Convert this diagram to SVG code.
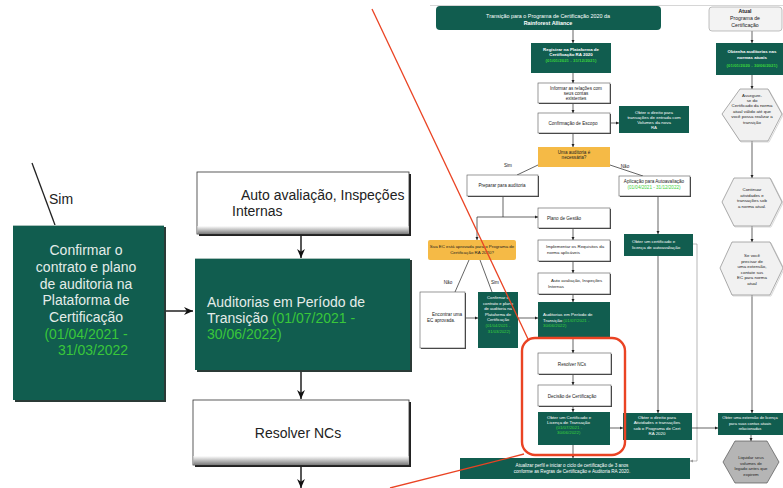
<svg xmlns="http://www.w3.org/2000/svg" width="783" height="488" viewBox="0 0 783 488">
<defs>
<style>
text{font-family:"Liberation Sans",Arial,sans-serif;}
.g{fill:#115d4f;}
.gs{fill:#2b3a36;}
.w{fill:#ffffff;stroke:#555;stroke-width:0.6;}
.ws{fill:#444;}
.o{fill:#f5ba46;}
.hx{fill:#f1f1f1;stroke:#8a8a8a;stroke-width:0.7;}
.hxs{fill:none;stroke:#c8c8c8;stroke-width:0.7;}
.t{font-size:4.6px;fill:#222;}
.tw{font-size:4.4px;fill:#fff;}
.tb{font-weight:bold;}
.tg{fill:#3bd23b;}
.c{stroke:#222;stroke-width:0.7;fill:none;}
.cl{stroke:#111;stroke-width:1.4;fill:none;}
.L{font-size:14px;}
.LW{font-size:14px;fill:#e4ece9;}
.LG{fill:#39c73a;}
.red{stroke:#ea4323;fill:none;}
</style>
<marker id="a" viewBox="0 0 6 6" refX="6" refY="3" markerWidth="3.2" markerHeight="3.2" markerUnits="userSpaceOnUse" orient="auto"><path d="M0,0 L6,3 L0,6 z" fill="#222"/></marker>
<marker id="ag" viewBox="0 0 6 6" refX="6" refY="3" markerWidth="3.2" markerHeight="3.2" markerUnits="userSpaceOnUse" orient="auto"><path d="M0,0 L6,3 L0,6 z" fill="#999"/></marker>
<marker id="A" viewBox="0 0 8 8" refX="8" refY="4" markerWidth="9" markerHeight="9" markerUnits="userSpaceOnUse" orient="auto"><path d="M0,0.5 L8,4 L0,7.5 L2.5,4 z" fill="#111"/></marker>
<linearGradient id="sh" x1="0" y1="0" x2="0" y2="1"><stop offset="0" stop-color="#ffffff"/><stop offset="1" stop-color="#7a7a7a"/></linearGradient>
</defs>
<rect width="783" height="488" fill="#fff"/>
<line x1="430" y1="5.5" x2="783" y2="5.5" stroke="#bbb" stroke-width="0.6"/>

<!-- ===== LEFT ZOOMED VIEW ===== -->
<g id="left-connectors">
<line x1="32" y1="163" x2="55" y2="225" stroke="#222" stroke-width="1.3"/>
<line class="cl" x1="164" y1="311" x2="193" y2="311" marker-end="url(#A)"/>
<line class="cl" x1="301" y1="235" x2="301" y2="258" marker-end="url(#A)"/>
<line class="cl" x1="301" y1="370" x2="301" y2="399" marker-end="url(#A)"/>
<line class="cl" x1="301" y1="465" x2="301" y2="488" marker-end="url(#A)"/>
</g>
<g id="L-sim"><text class="L" x="49" y="204" fill="#222">Sim</text></g>
<g id="L-confirmar">
<rect x="15" y="227" width="151" height="175" class="gs"/>
<rect x="13" y="225" width="151" height="175" class="g"/>
<line x1="13" y1="225.5" x2="164" y2="225.5" stroke="#a9c1bb" stroke-width="1"/>
<text class="LW" text-anchor="middle">
<tspan x="88" y="255">Confirmar o</tspan>
<tspan x="88" y="272">contrato e plano</tspan>
<tspan x="88" y="288.5">de auditoria na</tspan>
<tspan x="88" y="305">Plataforma de</tspan>
<tspan x="88" y="322">Certificação</tspan>
<tspan x="88" y="338.5" class="LG">(01/04/2021 -</tspan>
<tspan x="93" y="355" class="LG">31/03/2022</tspan>
</text>
</g>
<g id="L-auto">
<rect x="199" y="174" width="212" height="62" fill="#222"/>
<rect x="197" y="172" width="212" height="62" fill="#fff" stroke="#333" stroke-width="0.8"/>
<rect x="197.5" y="226" width="211" height="8" fill="url(#sh)"/>
<text class="L" fill="#222"><tspan x="241" y="200">Auto avaliação, Inspeções</tspan><tspan x="232" y="216">Internas</tspan></text>
</g>
<g id="L-auditorias">
<rect x="197" y="260" width="215" height="112" class="gs"/>
<rect x="195" y="258" width="215" height="112" class="g"/>
<line x1="195" y1="258.5" x2="410" y2="258.5" stroke="#a9c1bb" stroke-width="1"/>
<text class="LW"><tspan x="207" y="307">Auditorias em Período de</tspan><tspan x="207" y="323">Transição <tspan class="LG">(01/07/2021 -</tspan></tspan><tspan x="207" y="339" class="LG">30/06/2022)</tspan></text>
</g>
<g id="L-resolver">
<rect x="195" y="402" width="216" height="65" fill="#222"/>
<rect x="193" y="400" width="216" height="65" fill="#fff" stroke="#333" stroke-width="0.8"/>
<rect x="193.5" y="456" width="215" height="9" fill="url(#sh)"/>
<text class="L" fill="#222" x="298" y="438" text-anchor="middle">Resolver NCs</text>
</g>

<!-- ===== RIGHT FLOWCHART ===== -->
<g id="connectors">
<line class="c" x1="573" y1="30" x2="573" y2="43" marker-end="url(#a)"/>
<line class="c" x1="752" y1="31" x2="752" y2="43" marker-end="url(#a)"/>
<line class="c" x1="573" y1="73" x2="573" y2="83" marker-end="url(#a)"/>
<line class="c" x1="752" y1="75" x2="752" y2="89" marker-end="url(#a)"/>
<line class="c" x1="573" y1="103" x2="573" y2="113" marker-end="url(#a)"/>
<line class="c" x1="610" y1="123" x2="619" y2="123" marker-end="url(#a)"/>
<line class="c" x1="573" y1="133" x2="573" y2="147" marker-end="url(#a)"/>
<line class="c" x1="752" y1="141" x2="752" y2="178" marker-end="url(#a)"/>
<line class="c" x1="538" y1="165" x2="517" y2="175"/>
<line class="c" x1="610" y1="165" x2="643" y2="176"/>
<path class="c" d="M503,196 V217 M477,217 H538" marker-end="url(#a)"/>
<path class="c" d="M477,217 V240" marker-end="url(#a)"/>
<line class="c" x1="658" y1="196" x2="658" y2="234" marker-end="url(#a)"/>
<line class="c" x1="752" y1="226" x2="752" y2="242" marker-end="url(#a)"/>
<line class="c" x1="573" y1="228" x2="573" y2="240" marker-end="url(#a)"/>
<line class="c" x1="469" y1="260" x2="455" y2="292"/>
<line class="c" x1="480" y1="260" x2="492" y2="292"/>
<line class="c" x1="573" y1="261" x2="573" y2="273" marker-end="url(#a)"/>
<line class="c" x1="573" y1="294" x2="573" y2="302" marker-end="url(#a)"/>
<line class="c" x1="465" y1="318" x2="478" y2="318" marker-end="url(#a)"/>
<line class="c" x1="518" y1="318" x2="538" y2="318" marker-end="url(#a)"/>
<line class="c" x1="573" y1="337" x2="573" y2="353" marker-end="url(#a)"/>
<line class="c" x1="573" y1="374" x2="573" y2="385" marker-end="url(#a)"/>
<line class="c" x1="573" y1="406" x2="573" y2="412" marker-end="url(#a)"/>
<line class="c" x1="573" y1="445" x2="573" y2="458" marker-end="url(#a)"/>
<line class="c" x1="658" y1="256" x2="658" y2="413" marker-end="url(#a)"/>
<path d="M693,244 H697 V461 H690" stroke="#999" stroke-width="0.7" fill="none" marker-end="url(#ag)"/>
<line class="c" x1="752" y1="295" x2="752" y2="413" marker-end="url(#a)"/>
<line class="c" x1="610" y1="428" x2="623" y2="428" marker-end="url(#a)"/>
<line class="c" x1="692" y1="428" x2="718" y2="428" marker-end="url(#a)"/>
<line class="c" x1="751" y1="435" x2="751" y2="441" marker-end="url(#a)"/>
</g>

<g id="n-header">
<rect x="436" y="6" width="225" height="24" rx="4" class="g"/>
<text class="tw" text-anchor="middle" style="font-size:5.4px"><tspan x="548" y="18">Transição para o Programa de Certificação 2020 da</tspan><tspan x="548" y="24.5" class="tb">Rainforest Alliance</tspan></text>
</g>
<g id="n-atual">
<rect x="709" y="7" width="73" height="24" rx="3" fill="#f3f3f3" stroke="#999" stroke-width="0.6"/>
<text class="t" text-anchor="middle" style="font-size:5.2px"><tspan x="745" y="13" class="tb">Atual</tspan><tspan x="745" y="20">Programa de</tspan><tspan x="745" y="27">Certificação</tspan></text>
</g>
<g id="n-registrar">
<rect x="531" y="43" width="80" height="30" class="g"/>
<text class="tw tb" text-anchor="middle"><tspan x="571" y="50.5">Registrar na Plataforma de</tspan><tspan x="571" y="56">Certificação RA 2020</tspan><tspan x="571" y="61.5" class="tg">(01/01/2021 - 31/12/2021)</tspan></text>
</g>
<g id="n-obtenha">
<rect x="716" y="43" width="72" height="32" class="g"/>
<text class="tw tb" text-anchor="middle"><tspan x="752" y="53">Obtenha auditorias nas</tspan><tspan x="752" y="58.5">normas atuais</tspan><tspan x="752" y="67" class="tg">(01/01/2020 - 30/06/2021)</tspan></text>
</g>
<g id="n-informar">
<rect x="539" y="84" width="72" height="20" class="ws"/>
<rect x="538" y="83" width="72" height="20" class="w"/>
<text class="t" text-anchor="middle"><tspan x="576" y="90">Informar as relações com</tspan><tspan x="576" y="95">seus contas</tspan><tspan x="576" y="100">existentes</tspan></text>
</g>
<g id="n-hex1">
<polygon points="741,90 769,90 783,115 769,142 741,142 723,115" class="hxs"/>
<polygon points="740,89 768,89 782,114 768,141 740,141 722,114" class="hx"/>
<text class="t" text-anchor="middle" style="font-size:4.4px"><tspan x="752" y="96.5">Assegure-</tspan><tspan x="752" y="101.5">se do</tspan><tspan x="752" y="107">Certificado da norma</tspan><tspan x="752" y="112.5">atual válido até que</tspan><tspan x="752" y="118">você possa realizar a</tspan><tspan x="752" y="123.5">transição</tspan></text>
</g>
<g id="n-escopo">
<rect x="539" y="114" width="72" height="20" class="ws"/>
<rect x="538" y="113" width="72" height="20" class="w"/>
<text class="t" x="573" y="125" text-anchor="middle">Confirmação de Escopo</text>
</g>
<g id="n-direito1">
<rect x="619" y="106" width="70" height="27" class="g"/>
<text class="tw" text-anchor="middle"><tspan x="654" y="114">Obter o direito para</tspan><tspan x="654" y="119">transações de entrada com</tspan><tspan x="654" y="124">Volumes da nova</tspan><tspan x="654" y="129">RA</tspan></text>
</g>
<g id="n-auditoria-q">
<rect x="538" y="147" width="72" height="20" class="o"/>
<text class="t" text-anchor="middle"><tspan x="574" y="153.5">Uma auditoria é</tspan><tspan x="574" y="159">necessária?</tspan></text>
</g>
<g id="lbl-sim1"><text class="t" x="508" y="167" text-anchor="middle">Sim</text></g>
<g id="lbl-nao1"><text class="t" x="625" y="168" text-anchor="middle">Não</text></g>
<g id="n-preparar">
<rect x="468" y="176" width="71" height="21" class="ws"/>
<rect x="467" y="175" width="71" height="21" class="w"/>
<text class="t" x="502" y="187" text-anchor="middle">Preparar para auditoria</text>
</g>
<g id="n-aplicacao">
<rect x="620" y="177" width="71" height="20" class="ws"/>
<rect x="619" y="176" width="71" height="20" class="w"/>
<text class="t" text-anchor="middle"><tspan x="654" y="183">Aplicação para Autoavaliação</tspan><tspan x="654" y="189" class="tg">(01/04/2021 - 31/12/2022)</tspan></text>
</g>
<g id="n-hex2">
<polygon points="735,179 771,179 783,203 771,227 735,227 723,203" class="hxs"/>
<polygon points="734,178 770,178 782,202 770,226 734,226 722,202" class="hx"/>
<text class="t" text-anchor="middle" style="font-size:4.4px"><tspan x="752" y="191">Continuar</tspan><tspan x="752" y="196.5">atividades e</tspan><tspan x="752" y="202">transações sob</tspan><tspan x="752" y="207.5">a norma atual.</tspan></text>
</g>
<g id="n-plano">
<rect x="539" y="209" width="72" height="20" class="ws"/>
<rect x="538" y="208" width="72" height="20" class="w"/>
<text class="t" x="564" y="219.5" text-anchor="middle">Plano de Gestão</text>
</g>
<g id="n-ec-q">
<rect x="428" y="240" width="88" height="20" rx="2" class="o"/>
<text class="t" text-anchor="middle" style="font-size:4.4px"><tspan x="472" y="247.5">Sua EC está aprovada para o Programa de</tspan><tspan x="472" y="253.5">Certificação RA 2020?</tspan></text>
</g>
<g id="n-implementar">
<rect x="539" y="241" width="72" height="21" class="ws"/>
<rect x="538" y="240" width="72" height="21" class="w"/>
<text class="t" style="font-size:4.4px"><tspan x="546" y="248">Implementar os Requisitos da</tspan><tspan x="547" y="254">norma aplicáveis</tspan></text>
</g>
<g id="n-cert-auto">
<rect x="624" y="234" width="69" height="22" class="g"/>
<text class="tw"><tspan x="632" y="243">Obter um certificado e</tspan><tspan x="632" y="248.5">licença de autoavaliação</tspan></text>
</g>
<g id="n-hex3">
<polygon points="733,243 771,243 784,269 771,296 733,296 721,269" class="hxs"/>
<polygon points="732,242 770,242 783,268 770,295 732,295 720,268" class="hx"/>
<text class="t" text-anchor="middle" style="font-size:4.4px"><tspan x="752" y="257">Se você</tspan><tspan x="752" y="262.5">precisar de</tspan><tspan x="752" y="268">uma extensão,</tspan><tspan x="752" y="273.5">contate sus</tspan><tspan x="752" y="279">EC para norma</tspan><tspan x="752" y="284.5">atual</tspan></text>
</g>
<g id="lbl-nao2"><text class="t" x="448" y="284" text-anchor="middle">Não</text></g>
<g id="lbl-sim2"><text class="t" x="495" y="284" text-anchor="middle">Sim</text></g>
<g id="n-auto">
<rect x="539" y="274" width="72" height="21" class="ws"/>
<rect x="538" y="273" width="72" height="21" class="w"/>
<text class="t" style="font-size:4.4px"><tspan x="551" y="282">Auto avaliação, Inspeções</tspan><tspan x="548" y="288">Internas</tspan></text>
</g>
<g id="n-encontrar">
<rect x="421" y="293" width="45" height="56" class="ws"/>
<rect x="420" y="292" width="45" height="56" class="w"/>
<text class="t"><tspan x="432" y="316">Encontrar uma</tspan><tspan x="427" y="322">EC aprovada.</tspan></text>
</g>
<g id="n-confirmar">
<rect x="478" y="292" width="40" height="56" class="g"/>
<text class="tw" text-anchor="middle" style="font-size:4.2px"><tspan x="498" y="299">Confirmar o</tspan><tspan x="498" y="304.5">contrato e plano</tspan><tspan x="498" y="310">de auditoria na</tspan><tspan x="498" y="315.5">Plataforma de</tspan><tspan x="498" y="321">Certificação</tspan><tspan x="498" y="327" class="tg">(01/04/2021 -</tspan><tspan x="499" y="332.5" class="tg">31/03/2022)</tspan></text>
</g>
<g id="n-auditorias">
<rect x="538" y="302" width="72" height="35" class="g"/>
<text class="tw"><tspan x="543" y="316">Auditorias em Período de</tspan><tspan x="543" y="321.5">Transição <tspan class="tg">(01/07/2021 -</tspan></tspan><tspan x="543" y="327" class="tg">30/06/2022)</tspan></text>
</g>
<g id="n-resolver">
<rect x="539" y="354" width="73" height="21" class="ws"/>
<rect x="538" y="353" width="73" height="21" class="w"/>
<text class="t" x="572" y="365.5" text-anchor="middle">Resolver NCs</text>
</g>
<g id="n-decisao">
<rect x="539" y="386" width="73" height="21" class="ws"/>
<rect x="538" y="385" width="73" height="21" class="w"/>
<text class="t" x="572" y="397.5" text-anchor="middle">Decisão de Certificação</text>
</g>
<g id="n-cert-trans">
<rect x="538" y="412" width="72" height="33" class="g"/>
<text class="tw"><tspan x="547" y="418.5">Obter um Certificado e</tspan><tspan x="547" y="423.5">Licença de Transação</tspan><tspan x="556" y="429" class="tg">(01/07/2021 -</tspan><tspan x="557" y="434" class="tg">30/06/2022)</tspan></text>
</g>
<g id="n-direito2">
<rect x="623" y="413" width="69" height="27" class="g"/>
<text class="tw" text-anchor="middle"><tspan x="657" y="418.5">Obter o direito para</tspan><tspan x="657" y="424">Atividades e transações</tspan><tspan x="657" y="429.5">sob o Programa de Cert</tspan><tspan x="657" y="435">RA 2020</tspan></text>
</g>
<g id="n-extensao">
<rect x="718" y="413" width="70" height="22" class="g"/>
<text class="tw" text-anchor="middle" style="font-size:4px"><tspan x="750" y="419">Obter uma extensão de licença</tspan><tspan x="750" y="424.5">para suas contas atuais</tspan><tspan x="750" y="430">relacionadas</tspan></text>
</g>
<g id="n-hex4">
<polygon points="735,441 767,441 779,462 767,483 735,483 723,462" fill="#b5b5b5" stroke="#555" stroke-width="0.7"/>
<text class="t" text-anchor="middle" style="font-size:4.3px"><tspan x="751" y="459">Liquidar seus</tspan><tspan x="751" y="464.5">volumes de</tspan><tspan x="751" y="470">legado antes que</tspan><tspan x="751" y="475.5">expirem</tspan></text>
</g>
<g id="n-atualizar">
<rect x="460" y="458" width="230" height="21" class="g"/>
<text class="tw" text-anchor="middle" style="font-size:4.6px"><tspan x="572" y="466.5">Atualizar perfil e iniciar o ciclo de certificação de 3 anos</tspan><tspan x="572" y="472.5">conforme as Regras de Certificação e Auditoria RA 2020.</tspan></text>
</g>

<g id="highlight">
<rect x="522" y="338" width="103" height="117" rx="13" class="red" stroke-width="2.4"/>
<line x1="372" y1="9" x2="528" y2="339" class="red" stroke-width="1.3"/>
<line x1="390" y1="488" x2="524" y2="454" class="red" stroke-width="1.3"/>
</g>
</svg>
